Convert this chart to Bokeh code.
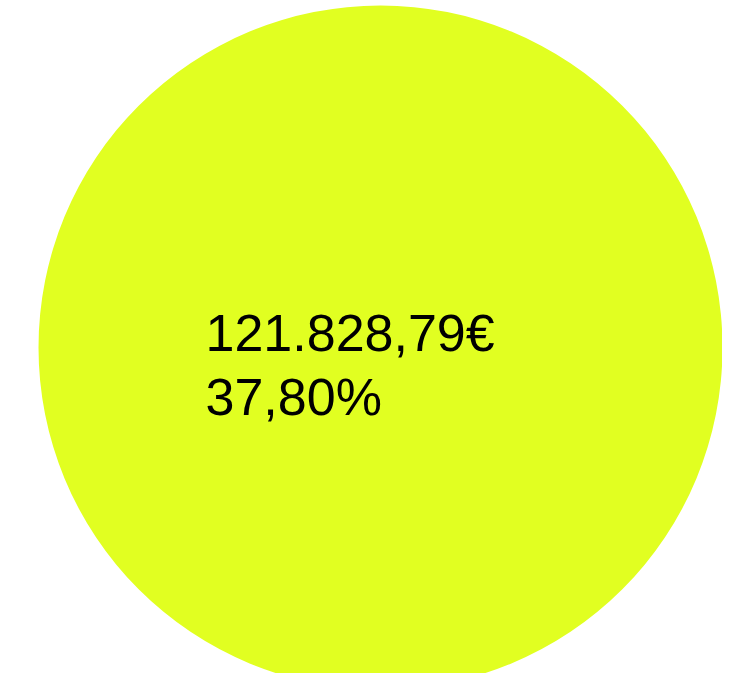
import math
from bokeh.plotting import figure
from bokeh.models import Range1d, ColumnDataSource
from bokeh.core.properties import value
from bokeh.embed import file_html
from bokeh.resources import INLINE

# Data
categories = ["Betrag"]
amounts = [121828.79]
shares = [37.80]


def de_money(v):
    s = f"{v:,.2f}"
    return s.replace(",", "X").replace(".", ",").replace("X", ".") + "€"


def de_pct(v):
    return f"{v:.2f}".replace(".", ",") + "%"


W, H = 722, 673
p = figure(width=W, height=H, output_backend="svg", toolbar_location=None,
           x_range=Range1d(0, W), y_range=Range1d(H, 0), min_border=0)
p.axis.visible = False
p.grid.visible = False
p.outline_line_color = None
p.background_fill_color = "white"
p.border_fill_color = "white"

src = ColumnDataSource(dict(
    cat=categories,
    x=[380], y=[347],
    start=[0.0], end=[2 * math.pi],
    line1=[de_money(a) for a in amounts],
    line2=[de_pct(s) for s in shares],
    lx=[205], ly1=[332], ly2=[396],
))

p.wedge(x="x", y="y", radius=342, start_angle="start", end_angle="end",
        fill_color="#e1ff21", line_color=None, source=src)
p.text(x="lx", y="ly1", text="line1", source=src, text_font=value("Liberation Sans"),
       text_font_size="52px", text_color="black", text_baseline="alphabetic",
       text_align="left")
p.text(x="lx", y="ly2", text="line2", source=src, text_font=value("Liberation Sans"),
       text_font_size="52px", text_color="black", text_baseline="alphabetic",
       text_align="left")

open("out.html", "w").write(file_html(p, INLINE))
